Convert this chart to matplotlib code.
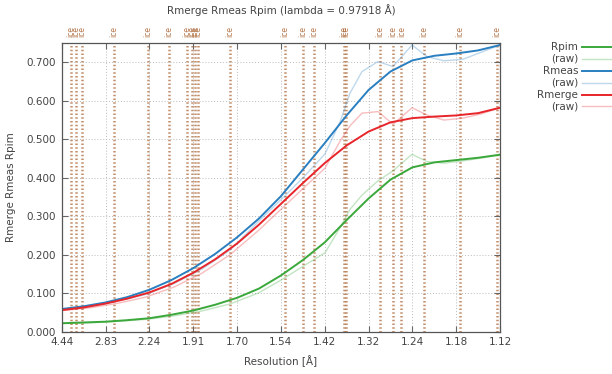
import numpy as np
import matplotlib
matplotlib.use('Agg')
import matplotlib.pyplot as plt
import matplotlib.transforms as mtransforms
from matplotlib.lines import Line2D

# x axis is 1/d^2, labelled with resolution d [A]
tick_labels = ['4.44', '2.83', '2.24', '1.91', '1.70', '1.54', '1.42', '1.32', '1.24', '1.18', '1.12']
x_min, x_max = 0.0507, 0.7970

# smoothed curves, read at 1/d^2 positions
s_smooth = [0.0507, 0.0880, 0.1253, 0.1626, 0.2000, 0.2373, 0.2746, 0.3119, 0.3492, 0.3865, 0.4239,
            0.4612, 0.4985, 0.5358, 0.5731, 0.6104, 0.6477, 0.6851, 0.7224, 0.7597, 0.7970]
rpim   = [0.022, 0.024, 0.026, 0.030, 0.035, 0.044, 0.055, 0.070, 0.088, 0.112, 0.146,
          0.186, 0.232, 0.290, 0.346, 0.395, 0.427, 0.440, 0.446, 0.452, 0.460]
rmeas  = [0.059, 0.066, 0.076, 0.090, 0.109, 0.134, 0.165, 0.202, 0.245, 0.294, 0.352,
          0.421, 0.490, 0.562, 0.628, 0.676, 0.705, 0.717, 0.723, 0.731, 0.745]
rmerge = [0.056, 0.063, 0.073, 0.086, 0.102, 0.124, 0.153, 0.188, 0.229, 0.278, 0.332,
          0.386, 0.438, 0.484, 0.520, 0.544, 0.555, 0.559, 0.562, 0.568, 0.582]

# raw binned values
s_raw = [0.0507, 0.0989, 0.1466, 0.1942, 0.2419, 0.2896, 0.3373, 0.3849, 0.4241, 0.4616, 0.4990,
         0.5246, 0.5416, 0.5620, 0.5893, 0.6148, 0.6472, 0.6727, 0.7016, 0.7340, 0.7647, 0.7970]
rpim_raw   = [0.021, 0.023, 0.027, 0.032, 0.041, 0.054, 0.072, 0.100, 0.134, 0.170, 0.205,
              0.270, 0.318, 0.355, 0.392, 0.418, 0.461, 0.442, 0.438, 0.444, 0.451, 0.460]
rmeas_raw  = [0.058, 0.066, 0.080, 0.097, 0.125, 0.163, 0.212, 0.285, 0.343, 0.400, 0.462,
              0.545, 0.620, 0.676, 0.702, 0.689, 0.745, 0.715, 0.704, 0.708, 0.726, 0.745]
rmerge_raw = [0.055, 0.062, 0.074, 0.090, 0.116, 0.152, 0.200, 0.262, 0.318, 0.372, 0.425,
              0.495, 0.535, 0.568, 0.572, 0.539, 0.582, 0.563, 0.550, 0.555, 0.566, 0.582]

# ice ring resolutions [A]
ice_d = [3.897, 3.669, 3.441, 2.671, 2.249, 2.072, 1.948, 1.918, 1.897, 1.883, 1.721,
         1.524, 1.473, 1.444, 1.372, 1.367, 1.299, 1.275, 1.261, 1.224, 1.171, 1.124]

c_green, c_blue, c_red = '#3aa83a', '#2a7fc0', '#e8252a'
c_ice = '#a9602c'
c_txt = '#444444'

plt.rcParams['font.family'] = 'DejaVu Sans'
fig = plt.figure(figsize=(6.12, 3.74), dpi=100)
ax = fig.add_axes([0.1008, 0.1131, 0.7162, 0.7727])

ax.plot(s_raw, rpim_raw, color=c_green, lw=1.0, alpha=0.3)
ax.plot(s_raw, rmeas_raw, color=c_blue, lw=1.0, alpha=0.3)
ax.plot(s_raw, rmerge_raw, color=c_red, lw=1.0, alpha=0.3)
ax.plot(s_smooth, rpim, color=c_green, lw=1.4)
ax.plot(s_smooth, rmeas, color=c_blue, lw=1.4)
ax.plot(s_smooth, rmerge, color=c_red, lw=1.4)

trans = mtransforms.blended_transform_factory(ax.transData, ax.transAxes)
for d in ice_d:
    s = 1.0 / d**2
    ax.axvline(s, color=c_ice, lw=1.8, ls=(0, (0.6, 0.9)), alpha=0.7, zorder=0.5)
    ax.text(s, 1.02, 'ice', rotation=90, transform=trans, ha='center', va='bottom',
            fontsize=5.5, color=c_ice, alpha=0.85)

ax.set_xlim(x_min, x_max)
ax.set_ylim(0, 0.751)
ax.set_xticks(np.linspace(x_min, x_max, len(tick_labels)))
ax.set_xticklabels(tick_labels)
ax.set_yticks([0, 0.1, 0.2, 0.3, 0.4, 0.5, 0.6, 0.7])
ax.set_yticklabels(['%.3f' % v for v in ax.get_yticks()])
ax.grid(True, color='#bbbbbb', ls=(0, (1, 2)), lw=0.7)
ax.set_axisbelow(True)
ax.tick_params(direction='in', top=True, right=True, length=4, width=0.8,
               color='#666666', labelsize=7.5, labelcolor=c_txt, pad=4)
for sp in ax.spines.values():
    sp.set_color('#555555')
    sp.set_linewidth(0.9)

ax.set_xlabel('Resolution [Å]', fontsize=7.5, color=c_txt, labelpad=6)
ax.set_ylabel('Rmerge Rmeas Rpim', fontsize=7.5, color=c_txt, labelpad=8)
fig.text(0.459, 0.972, 'Rmerge Rmeas Rpim (lambda = 0.97918 Å)', ha='center', va='center',
         fontsize=7.5, color=c_txt)

# legend drawn at the right, text right aligned
leg_names = ['Rpim', '(raw)', 'Rmeas', '(raw)', 'Rmerge', '(raw)']
leg_cols = [c_green, c_green, c_blue, c_blue, c_red, c_red]
leg_alpha = [1, 0.3, 1, 0.3, 1, 0.3]
for i, (name, col, a) in enumerate(zip(leg_names, leg_cols, leg_alpha)):
    y = 1 - (46.5 + i * 12.0) / 374
    fig.text(578 / 612, y, name, ha='right', va='center', fontsize=7.5, color=c_txt)
    fig.add_artist(Line2D([582 / 612, 612 / 612], [y, y], color=col, lw=1.4 if a == 1 else 1.0,
                          alpha=a, transform=fig.transFigure))

plt.savefig('out.png', dpi=100)
